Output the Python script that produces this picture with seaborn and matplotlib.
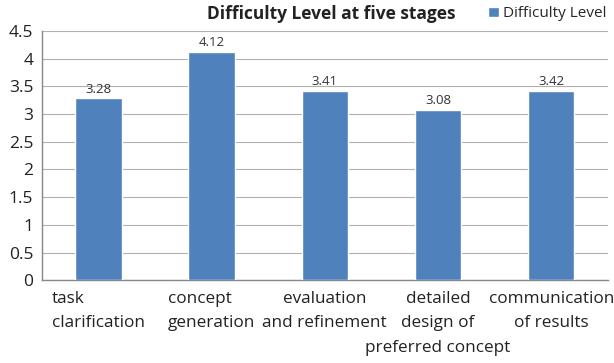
import matplotlib
matplotlib.use("Agg")
import matplotlib.pyplot as plt
import seaborn as sns
import pandas as pd

stages = ["task\nclarification", "concept\ngeneration", "evaluation\nand refinement",
          "detailed\ndesign of\npreferred concept", "communication\nof results"]
difficulty = [3.28, 4.12, 3.41, 3.08, 3.42]
yticks = [0, 0.5, 1, 1.5, 2, 2.5, 3, 3.5, 4, 4.5]
ytick_labels = ["0", "0.5", "1", "1.5", "2", "2.5", "3", "3.5", "4", "4.5"]

sns.set_style("white")
plt.rcParams["font.family"] = ["Open Sans", "DejaVu Sans"]

df = pd.DataFrame({"stage": stages, "value": difficulty})

fig = plt.figure(figsize=(6.14, 3.63), dpi=100)
ax = fig.add_axes([0.068, 0.228, 0.922, 0.687])

sns.barplot(data=df, x="stage", y="value", color="#4F81BD", width=0.41,
            saturation=1, ax=ax, label="Difficulty Level", zorder=3)

ax.set_ylim(0, 4.5)
ax.set_xlim(-0.5, 4.5)
ax.set_yticks(yticks)
ax.set_yticklabels(ytick_labels, fontsize=12.5, color="#222222")
ax.yaxis.grid(True, color="#b0b0b0", linewidth=0.8, zorder=0)
ax.set_axisbelow(True)

# category labels: first two lines as tick labels, any third line set below them
label_font = dict(fontsize=12.3, color="#222222")
head_lines = []
tail_lines = []
for s in stages:
    parts = s.split("\n")
    head_lines.append("\n".join(parts[:2]))
    tail_lines.append("\n".join(parts[2:]))

ax.set_xticks([-0.5, 0.5, 1.5, 2.5, 3.5], minor=True)
ax.set_xticks(range(len(stages)))
ax.set_xticklabels(head_lines, linespacing=1.62, **label_font)
for lbl in ax.get_xticklabels()[:2]:
    lbl.set_multialignment("left")
for i, t in enumerate(tail_lines):
    if t:
        ax.annotate(t, xy=(i, 0), xycoords=("data", "axes fraction"),
                    xytext=(0, -68), textcoords="offset pixels",
                    ha="center", va="center", annotation_clip=False, **label_font)

ax.tick_params(axis="x", which="major", length=0, pad=8)
ax.tick_params(axis="x", which="minor", length=4, color="#888888", direction="out")
ax.tick_params(axis="y", length=4, color="#888888", direction="out", pad=2)
ax.set_xlabel("")
ax.set_ylabel("")

for s in ["top", "right"]:
    ax.spines[s].set_visible(False)
for s in ["left", "bottom"]:
    ax.spines[s].set_color("#888888")
    ax.spines[s].set_linewidth(1.0)

for i, v in enumerate(difficulty):
    ax.text(i, v + 0.05, f"{v:.2f}", ha="center", va="bottom", fontsize=9.5, color="#333333")

fig.text(0.54, 0.962, "Difficulty Level at five stages", ha="center", va="center",
         fontsize=12.5, fontweight="bold", color="#222222")

ax.legend(loc="center right", bbox_to_anchor=(1.0, 0.962), bbox_transform=fig.transFigure,
          frameon=False, fontsize=11, handlelength=0.7, handleheight=0.7,
          handletextpad=0.25, borderpad=0)

fig.savefig("out.png", dpi=100)
